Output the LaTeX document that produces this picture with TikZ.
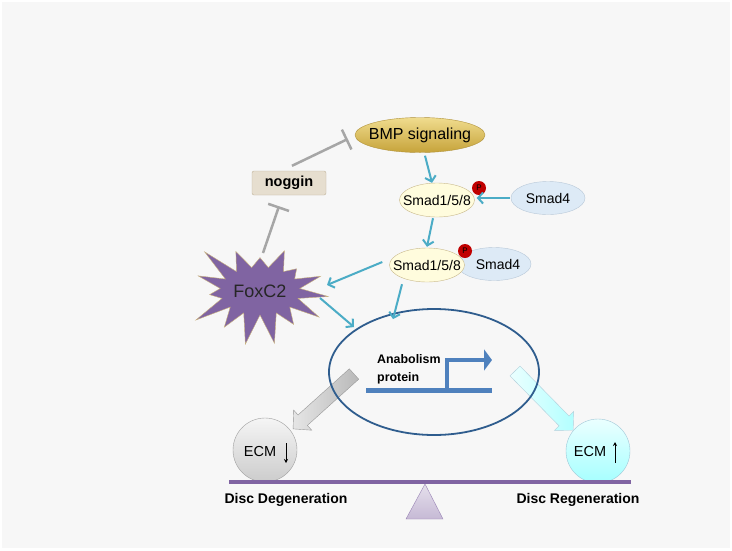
\documentclass[tikz,border=0pt]{standalone}
\usepackage{fontspec}
\setmainfont{Liberation Sans}
\usepackage{xcolor}
\definecolor{bggray}{HTML}{F7F7F7}
\definecolor{smadblue}{HTML}{4BACC6}
\definecolor{inhgray}{HTML}{A6A6A6}
\definecolor{bmptop}{HTML}{F0DC8E}
\definecolor{bmpbottom}{HTML}{C6A33A}
\definecolor{bmpedge}{HTML}{B0923A}
\definecolor{nogfill}{HTML}{E6DECF}
\definecolor{nogedge}{HTML}{BFB39A}
\definecolor{smadfill}{HTML}{FFFCDD}
\definecolor{smadedge}{HTML}{C8B88A}
\definecolor{smadfourfill}{HTML}{DDEAF6}
\definecolor{smadfouredge}{HTML}{B8C8D8}
\definecolor{pred}{HTML}{C00000}
\definecolor{foxpurple}{HTML}{8064A2}
\definecolor{foxedge}{HTML}{C9B27C}
\definecolor{celledge}{HTML}{2F5D8E}
\definecolor{genblue}{HTML}{4F81BD}
\definecolor{seesaw}{HTML}{8064A2}
\usepackage{tikz}
\usetikzlibrary{positioning,arrows.meta,shapes,shapes.symbols}

\begin{document}
\begin{tikzpicture}[x=1pt,y=-1pt,
  act/.style={draw=smadblue, line width=2pt, -{Straight Barb[length=5pt,width=11pt]}},
  inhib/.style={draw=inhgray, line width=2.5pt, -{Bar[width=22pt,line width=2.5pt]}},
  smad/.style={ellipse, draw=smadedge, fill=smadfill, minimum width=75pt, minimum height=34pt, inner sep=0pt},
  smadfour/.style={ellipse, draw=smadfouredge, fill=smadfourfill, minimum width=74pt, minimum height=33pt, inner sep=0pt},
  smadtext/.style={inner sep=0pt, font=\fontsize{14}{16}\selectfont},
  phos/.style={circle, fill=pred, minimum size=14pt, inner sep=0pt, font=\fontsize{8}{8}\selectfont},
  ecm/.style={circle, minimum size=64pt, inner sep=0pt},
  ecmtext/.style={font=\fontsize{14.5}{16}\selectfont},
  ecmarrow/.style={line width=1pt, -{Stealth[length=4pt,width=4pt]}},
  caption/.style={font=\bfseries\fontsize{14}{16}\selectfont}
]
\useasboundingbox (0,0) rectangle (732,550);
\fill[white] (0,0) rectangle (732,550);
\fill[bggray] (2,2) rectangle (730,548);

%%% BMP and noggin
\node[ellipse, draw=bmpedge, top color=bmptop, bottom color=bmpbottom, minimum width=130pt, minimum height=35pt, inner sep=0pt] (bmp) at (420,135) {};
\node[inner sep=0pt, font=\fontsize{16}{18}\selectfont] (bmptext) at (bmp) {BMP signaling};
\node[draw=nogedge, fill=nogfill, rounded corners=2pt, minimum width=74pt, minimum height=24pt, inner sep=0pt, font=\bfseries\fontsize{14.5}{16}\selectfont] (noggin) at (289,183) {noggin};

%%% Smads
\node[smad] (smadA) at (437,200) {};
\node[smadtext] at (smadA) {Smad1/5/8};
\node[smadfour] (smadfourA) at (548,198) {};
\node[smadtext] at (smadfourA) {Smad4};
\node[smadfour] (smadfourB) at (494,264) {};
\node[smadtext] at ([xshift=4pt]smadfourB.center) {Smad4};
\node[smad] (smadB) at (427,265) {};
\node[smadtext] at (smadB) {Smad1/5/8};
\node[phos] (pA) at (479,188) {P};
\node[phos] (pB) at (465,251) {P};

%%% FoxC2
\node[starburst, starburst points=15, starburst point height=36pt, random starburst=23, minimum width=152pt, minimum height=120pt, fill=foxpurple, draw=foxedge, inner sep=0pt, font=\fontsize{18}{20}\selectfont, text=black!85] (fox) at (260,291) {FoxC2};

%%% block arrows (drawn first, the cell line lies over them)
\begin{scope}[shift={(354,374)}, rotate=222]
\draw[gray!80, left color=gray!20, right color=gray!55] (0,-7) -- (69,-7) -- (69,-13.5) -- (82,0) -- (69,13.5) -- (69,7) -- (0,7) -- cycle;
\end{scope}
\begin{scope}[shift={(515,371)}, rotate=-45.5]
\draw[cyan!40!gray!50, left color=cyan!8, right color=cyan!30] (0,-7) -- (70,-7) -- (70,-13.5) -- (83,0) -- (70,13.5) -- (70,7) -- (0,7) -- cycle;
\end{scope}

%%% cell and gene
\node[ellipse, draw=celledge, line width=1.8pt, minimum width=210pt, minimum height=126pt] (cell) at (434,372) {};
\node[anchor=west, align=left, inner sep=0pt, font=\bfseries\fontsize{12.4}{18}\selectfont] (anabol) at (377,369) {Anabolism\\protein};
\draw[genblue, line width=5pt] (366,390) -- (492,390);
\draw[genblue, line width=4pt, -{Triangle[length=8pt,width=21pt]}] (447,390) -- (447,360) -- (492,360);

%%% ECM and balance
\node[ecm, draw=gray!75, top color=gray!8, bottom color=gray!40] (ecmdown) at (265,450) {};
\node[ecmtext] (ecmdowntext) at (260,452) {ECM};
\draw[ecmarrow] ([shift={(21,-7)}]ecmdown.center) -- ([shift={(21,13)}]ecmdown.center);
\node[ecm, draw=cyan!45!gray!60, top color=cyan!8, bottom color=cyan!35] (ecmup) at (598,451) {};
\node[ecmtext] (ecmuptext) at (590,452) {ECM};
\draw[ecmarrow] ([shift={(17,12)}]ecmup.center) -- ([shift={(17,-9)}]ecmup.center);
\draw[seesaw, line width=4pt] (229,482) -- (631,482);
\draw[draw=seesaw!80, top color=seesaw!20, bottom color=seesaw!45] (425,484) -- (443,519) -- (406,519) -- cycle;
\node[caption] (degen) at (286,500) {Disc Degeneration};
\node[caption] (regen) at (578,500) {Disc Regeneration};

%%% connectors
\draw[act] ([shift={(5,3)}]bmp.south) -- ([shift={(-5,0)}]smadA.north);
\draw[act] ([shift={(-1,0)}]smadfourA.west) -- ([shift={(2,-2)}]smadA.east);
\draw[act] ([shift={(-4,1)}]smadA.south) -- ([shift={(0,-1)}]smadB.north);
\draw[act] ([shift={(-7,-3)}]smadB.west) -- ([shift={(67,-6)}]fox.center);
\draw[act] ([shift={(60,7)}]fox.center) -- ([shift={(-80,-45)}]cell.center);
\draw[act] ([shift={(-25,2)}]smadB.south) -- ([shift={(-41,11)}]cell.north);
\draw[inhib] ([shift={(3,-5)}]noggin.north) -- ([shift={(-7,4)}]bmp.west);
\draw[inhib] ([shift={(3,-38)}]fox.center) -- ([shift={(-10,11)}]noggin.south);
\end{tikzpicture}
\end{document}
